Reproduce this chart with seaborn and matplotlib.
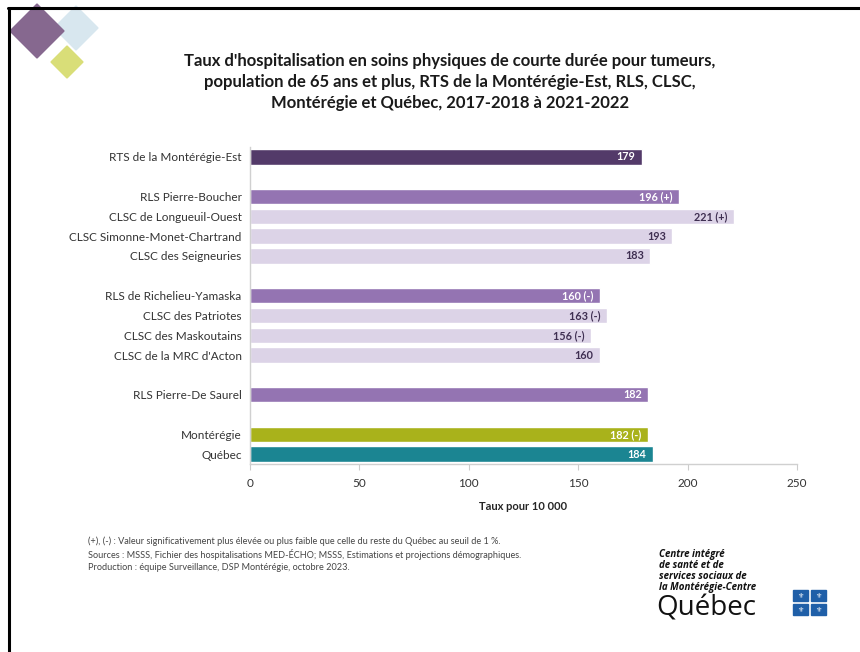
import pandas as pd
import matplotlib.pyplot as plt
import matplotlib.patches as mpatches
import seaborn as sns

# Données
territoires = ['RTS de la Montérégie-Est',
               'RLS Pierre-Boucher', 'CLSC de Longueuil-Ouest',
               'CLSC Simonne-Monet-Chartrand', 'CLSC des Seigneuries',
               'RLS de Richelieu-Yamaska', 'CLSC des Patriotes',
               'CLSC des Maskoutains', "CLSC de la MRC d'Acton",
               'RLS Pierre-De Saurel',
               'Montérégie', 'Québec']
taux = [179, 196, 221, 193, 183, 160, 163, 156, 160, 182, 182, 184]
signif = ['', ' (+)', ' (+)', '', '', ' (-)', ' (-)', ' (-)', '', '', ' (-)', '']
niveau = ['RTS', 'RLS', 'CLSC', 'CLSC', 'CLSC', 'RLS', 'CLSC', 'CLSC', 'CLSC',
          'RLS', 'Montérégie', 'Québec']

# ordre d'affichage avec lignes vides entre les groupes
ordre = ['RTS de la Montérégie-Est', ' ',
         'RLS Pierre-Boucher', 'CLSC de Longueuil-Ouest',
         'CLSC Simonne-Monet-Chartrand', 'CLSC des Seigneuries', '  ',
         'RLS de Richelieu-Yamaska', 'CLSC des Patriotes',
         'CLSC des Maskoutains', "CLSC de la MRC d'Acton", '   ',
         'RLS Pierre-De Saurel', '    ',
         'Montérégie', 'Québec']

couleurs = {'RTS': '#533a69', 'RLS': '#9474b2', 'CLSC': '#dcd3e7',
            'Montérégie': '#a9b21b', 'Québec': '#1b8592'}
couleurs_txt = {'RTS': 'white', 'RLS': 'white', 'CLSC': '#3f2f52',
                'Montérégie': 'white', 'Québec': 'white'}

notes = ["(+), (-) : Valeur significativement plus élevée ou plus faible que celle du reste du Québec au seuil de 1 %.",
         "Sources : MSSS, Fichier des hospitalisations MED-ÉCHO; MSSS, Estimations et projections démographiques.",
         "Production : équipe Surveillance, DSP Montérégie, octobre 2023."]

df = pd.DataFrame({'territoire': territoires, 'taux': taux,
                   'signif': signif, 'niveau': niveau})

sns.set_style('white')
plt.rcParams['font.family'] = ['Lato', 'DejaVu Sans']

fig = plt.figure(figsize=(8.6, 6.52), dpi=100)
ax = fig.add_axes([0.2907, 0.2883, 0.636, 0.4862])

sns.barplot(data=df, x='taux', y='territoire', hue='niveau', order=ordre,
            palette=couleurs, dodge=False, width=0.78, legend=False,
            saturation=1, orient='h', ax=ax)

for _, r in df.iterrows():
    ax.text(r['taux'] - 3, ordre.index(r['territoire']),
            f"{r['taux']}{r['signif']}", ha='right', va='center',
            fontsize=7.8, fontweight='bold', color=couleurs_txt[r['niveau']])

ax.set_xlim(0, 250)
ax.set_xticks([0, 50, 100, 150, 200, 250])
ax.set_ylim(len(ordre) - 0.5, -0.5)
ax.set_ylabel('')
ax.set_xlabel('Taux pour 10 000', fontsize=8, fontweight='bold', labelpad=9)
ax.tick_params(axis='y', length=0, labelsize=8.5, pad=6, colors='#333333')
ax.tick_params(axis='x', length=4, width=0.8, color='#cccccc', labelsize=8.5,
               pad=6, labelcolor='#333333', direction='out', bottom=True)
sns.despine(ax=ax, top=True, right=True)
for s in ['left', 'bottom']:
    ax.spines[s].set_color('#d0d0d0')
    ax.spines[s].set_linewidth(1)

# Titre
fig.text(0.523, 0.918,
         "Taux d'hospitalisation en soins physiques de courte durée pour tumeurs,\n"
         "population de 65 ans et plus, RTS de la Montérégie-Est, RLS, CLSC,\n"
         "Montérégie et Québec, 2017-2018 à 2021-2022",
         ha='center', va='top', fontsize=12, fontweight='bold',
         linespacing=1.38, color='#1a1a1a')

# Notes
for i, n in enumerate(notes):
    fig.text(0.102, 1 - (541 + 13.5 * i) / 652, n, ha='left', va='center',
             fontsize=6.6, color='#444444')

# Cadre
fig.add_artist(plt.Line2D([0.0105, 0.0105], [0, 0.988], color='black', lw=2.2,
                          transform=fig.transFigure))
fig.add_artist(plt.Line2D([0.0093, 1], [0.988, 0.988], color='black', lw=2.2,
                          transform=fig.transFigure))

# Losanges du logo
W, H = 860, 652
for cx, cy, r, c in [(76, 28, 22, '#d8e7ef'), (37, 31, 27, '#86688f'),
                     (67, 62, 16, '#d9de78')]:
    pts = [((cx - r) / W, 1 - cy / H), (cx / W, 1 - (cy - r) / H),
           ((cx + r) / W, 1 - cy / H), (cx / W, 1 - (cy + r) / H)]
    fig.add_artist(mpatches.Polygon(pts, closed=True, color=c,
                                    transform=fig.transFigure))

# Signature
fig.text(0.766, 0.158,
         "Centre intégré\nde santé et de\nservices sociaux de\nla Montérégie-Centre",
         ha='left', va='top', fontsize=7, fontweight='bold', style='italic',
         linespacing=0.98, color='#111111',
         family=['Open Sans', 'DejaVu Sans'])
fig.text(0.763, 0.056, 'Québec', ha='left', va='baseline', fontsize=20,
         color='#111111', family=['Open Sans', 'DejaVu Sans'])
for fx, fy in [(793, 590), (811, 590), (793, 604), (811, 604)]:
    fig.add_artist(mpatches.Rectangle((fx / W, 1 - (fy + 11) / H), 15 / W, 11 / H,
                                      color='#1f5fa8', transform=fig.transFigure))
    fig.text((fx + 7.5) / W, 1 - (fy + 5.5) / H, '⚜', ha='center', va='center',
             fontsize=5, color='white', family=['DejaVu Sans'])

fig.savefig('out.png', dpi=100, facecolor='white')
